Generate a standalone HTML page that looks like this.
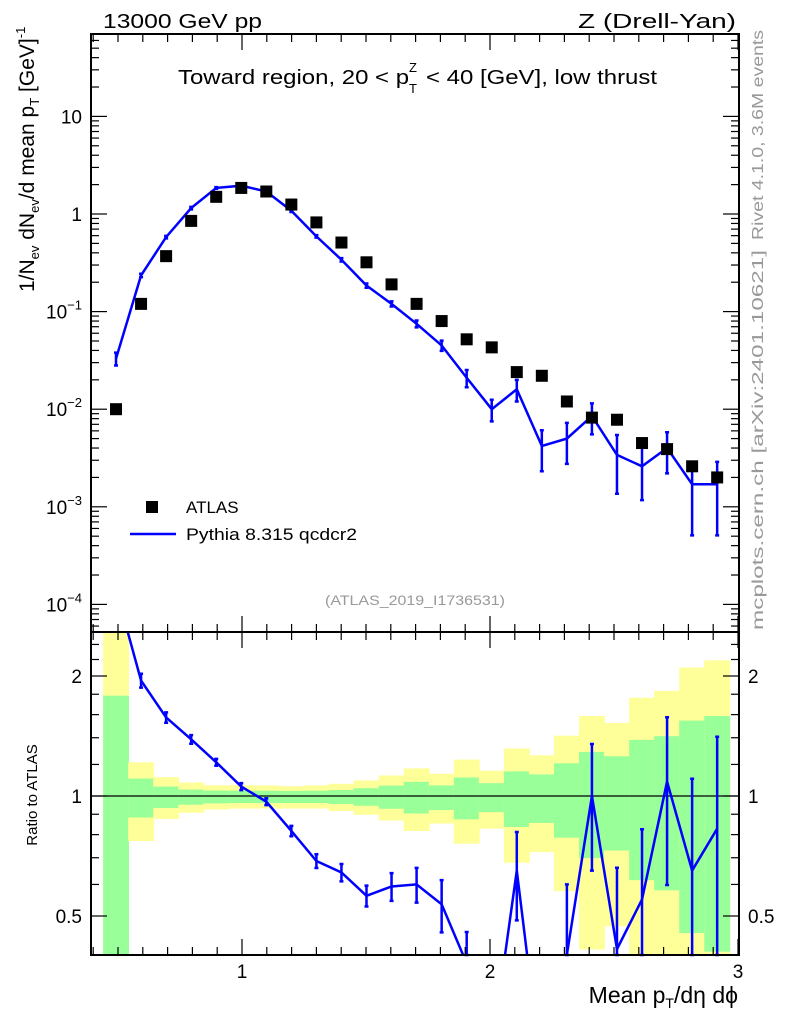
<!DOCTYPE html>
<html><head><meta charset="utf-8"><style>
body{margin:0;background:#fff;}
svg text{font-family:"Liberation Sans",Arial,sans-serif;}
</style></head><body>
<svg id="c" width="786" height="1024" xmlns="http://www.w3.org/2000/svg">
<rect width="786" height="1024" fill="#fff"/>
<g id="bands"></g>
<g id="marks"></g>
<g id="axes"></g>
<text x="103" y="28" font-size="20" textLength="159" lengthAdjust="spacingAndGlyphs">13000 GeV pp</text>
<text x="578" y="28" font-size="20" textLength="158" lengthAdjust="spacingAndGlyphs">Z (Drell-Yan)</text>
<g>
<text id="t1" x="178" y="84" font-size="20">Toward region, 20 &lt; p</text>
<text id="tT" x="341" y="93" font-size="13">T</text>
<text id="tZ" x="341" y="72" font-size="13">Z</text>
<text id="t2" x="362" y="84" font-size="20">&lt; 40 [GeV], low thrust</text>
</g>
<text transform="translate(763,240) rotate(-90)" font-size="16" fill="#999" textLength="210" lengthAdjust="spacingAndGlyphs">Rivet 4.1.0,  3.6M events</text>
<text transform="translate(763,630) rotate(-90)" font-size="16" fill="#999" textLength="380" lengthAdjust="spacingAndGlyphs">mcplots.cern.ch [arXiv:2401.10621]</text>
<text transform="translate(34,292) rotate(-90)" font-size="21">1/N<tspan dy="5" font-size="13">ev</tspan><tspan dy="-5"> dN</tspan><tspan dy="5" font-size="13">ev</tspan><tspan dy="-5">/d mean p</tspan><tspan dy="5" font-size="13">T</tspan><tspan dy="-5"> [GeV]</tspan><tspan dy="-9" font-size="13">-1</tspan></text>
<text transform="translate(37,795) rotate(-90)" font-size="15" text-anchor="middle">Ratio to ATLAS</text>
<text x="738" y="1003" font-size="23" text-anchor="end">Mean p<tspan dy="5" font-size="14">T</tspan><tspan dy="-5">/dη dϕ</tspan></text>
<text x="325" y="605" font-size="14" fill="#999" textLength="180" lengthAdjust="spacingAndGlyphs">(ATLAS_2019_I1736531)</text>
<g>
<rect x="146" y="501" width="12" height="12" fill="#000"/>
<text x="186" y="513" font-size="17">ATLAS</text>
<line x1="130" y1="534" x2="176" y2="534" stroke="#00f" stroke-width="2.5"/>
<text x="186" y="540" font-size="17" textLength="171" lengthAdjust="spacingAndGlyphs">Pythia 8.315 qcdcr2</text>
</g>
</svg>
<script>
const xs=[0.492,0.593,0.694,0.795,0.896,0.997,1.098,1.199,1.300,1.401,1.502,1.603,1.704,1.805,1.906,2.007,2.108,2.209,2.310,2.411,2.512,2.613,2.714,2.815,2.916];
const atlas=[0.010,0.12,0.37,0.85,1.5,1.85,1.7,1.25,0.82,0.51,0.32,0.19,0.12,0.08,0.052,0.043,0.024,0.022,0.012,0.0082,0.0078,0.0045,0.0039,0.0026,0.002];
const mc=[0.033,0.235,0.58,1.15,1.85,1.95,1.7,1.08,0.59,0.34,0.185,0.12,0.075,0.045,0.021,0.010,0.016,0.0042,0.005,0.0085,0.0034,0.0026,0.004,0.0017,0.0017];
const mcRelErr=[0.15,0.04,0.03,0.03,0.02,0.02,0.02,0.03,0.03,0.04,0.05,0.06,0.08,0.12,0.2,0.25,0.25,0.45,0.45,0.35,0.6,0.55,0.45,0.7,0.7];
const ratio=[3.3,1.948,1.574,1.387,1.215,1.056,0.968,0.817,0.687,0.643,0.562,0.593,0.6,0.535,0.38,0.23,0.65,0.2,0.4,1.0,0.413,0.55,1.087,0.65,0.828];
const ratioRelErr=[0.1,0.04,0.03,0.025,0.02,0.02,0.02,0.03,0.04,0.05,0.06,0.08,0.1,0.15,0.2,0.3,0.25,0.5,0.5,0.35,0.6,0.5,0.45,0.7,0.7];
const yelUp=[3,1.215,1.115,1.081,1.064,1.064,1.063,1.058,1.063,1.073,1.094,1.126,1.173,1.137,1.234,1.157,1.316,1.265,1.417,1.588,1.525,1.764,1.835,2.1,2.19];
const grnUp=[1.785,1.106,1.056,1.038,1.032,1.031,1.031,1.03,1.031,1.035,1.046,1.062,1.085,1.063,1.113,1.077,1.153,1.133,1.208,1.29,1.258,1.383,1.413,1.546,1.588];
const grnDn=[0.3,0.883,0.933,0.951,0.958,0.96,0.96,0.96,0.96,0.955,0.945,0.929,0.904,0.922,0.874,0.911,0.836,0.856,0.786,0.699,0.73,0.615,0.58,0.453,0.407];
const yelDn=[0.3,0.771,0.876,0.908,0.925,0.93,0.93,0.93,0.93,0.917,0.897,0.868,0.817,0.853,0.759,0.828,0.68,0.723,0.577,0.412,0.471,0.3,0.3,0.3,0.3];
const NS='http://www.w3.org/2000/svg';
const L=91,R=739,T=34,MB=632,RB=955;
const X=v=>-6+248*v;
const Y=v=>214-97.6*Math.log10(v);
const YR=v=>796-120*Math.log2(v);
const clipM=v=>Math.max(T,Math.min(MB,v));
const clipR=v=>Math.max(MB,Math.min(RB,v));
// title layout: stretch pieces proportionally to span 178..657
(function(){const t1=document.getElementById('t1'),t2=document.getElementById('t2');
 const w1=t1.getComputedTextLength(),w2=t2.getComputedTextLength();const sub=9,gap=4;
 const k=(657-178-sub-gap*2)/(w1+w2);
 t1.setAttribute('textLength',w1*k);t1.setAttribute('lengthAdjust','spacingAndGlyphs');
 const xs1=178+w1*k;document.getElementById('tT').setAttribute('x',xs1);document.getElementById('tZ').setAttribute('x',xs1);
 t2.setAttribute('x',xs1+sub+gap*2);t2.setAttribute('textLength',w2*k);t2.setAttribute('lengthAdjust','spacingAndGlyphs');})();
function mk(tag,at,parent){const e=document.createElementNS(NS,tag);for(const k in at)e.setAttribute(k,at[k]);(parent||document.getElementById('marks')).appendChild(e);return e;}
const bands=document.getElementById('bands');
xs.forEach((x,i)=>{
  const x0=Math.max(L+12,X(x-0.052)),x1=X(x+0.0505);
  let y1=clipR(YR(yelUp[i])),y2=clipR(YR(yelDn[i]));
  let e=mk('rect',{x:x0,y:y1,width:x1-x0+0.5,height:y2-y1,fill:'#ffff99'},bands);
  
  
  y1=clipR(YR(grnUp[i]));y2=clipR(YR(grnDn[i]));
  e=mk('rect',{x:x0,y:y1,width:x1-x0+0.5,height:y2-y1,fill:'#99ff99'},bands);
  
  
});
let e=mk('line',{x1:L,x2:R,y1:YR(1),y2:YR(1),stroke:'#000','stroke-width':1.3});


const defs=mk('defs',{},document.getElementById('c'));
const cm=mk('clipPath',{id:'cm'},defs);mk('rect',{x:L,y:T,width:R-L,height:MB-T},cm);
const cr=mk('clipPath',{id:'cr'},defs);mk('rect',{x:L,y:MB,width:R-L,height:RB-MB},cr);
let d=xs.map((x,i)=>(i?'L':'M')+X(x)+','+Y(mc[i])).join('');
e=mk('path',{d:d,fill:'none',stroke:'#00f','stroke-width':2.5,'clip-path':'url(#cm)'});


xs.forEach((x,i)=>{
  const a=clipM(Y(mc[i]*(1+mcRelErr[i]))),b=clipM(Y(Math.max(1e-6,mc[i]*(1-mcRelErr[i]))));
  let g=mk('path',{d:`M${X(x)},${a}V${b}M${X(x)-2},${a}h4M${X(x)-2},${b}h4`,stroke:'#00f','stroke-width':2.5,fill:'none'});
  
  
  g=mk('rect',{x:X(x)-6,y:Y(atlas[i])-6,width:12,height:12,fill:'#000'});
  
  
});
d=xs.map((x,i)=>(i?'L':'M')+X(x)+','+YR(ratio[i])).join('');
e=mk('path',{d:d,fill:'none',stroke:'#00f','stroke-width':2.5,'clip-path':'url(#cr)'});


xs.forEach((x,i)=>{
  if(YR(ratio[i]*(1+ratioRelErr[i]))>RB||YR(ratio[i]*(1-ratioRelErr[i]))<MB)return;
  const a=clipR(YR(ratio[i]*(1+ratioRelErr[i]))),b=clipR(YR(ratio[i]*(1-ratioRelErr[i])));
  const g=mk('path',{d:`M${X(x)},${a}V${b}M${X(x)-2},${a}h4M${X(x)-2},${b}h4`,stroke:'#00f','stroke-width':2.5,fill:'none'});
  
  
});
const ax=document.getElementById('axes');
function ln(x1,y1,x2,y2,w){mk('line',{x1,y1,x2,y2,stroke:'#000','stroke-width':w||1.2},ax);}
e=mk('rect',{x:L,y:T,width:R-L,height:MB-T,fill:'none',stroke:'#000','stroke-width':2},ax);


e=mk('rect',{x:L,y:MB,width:R-L,height:RB-MB,fill:'none',stroke:'#000','stroke-width':2},ax);


for(let k=4;k<=30;k++){const v=k/10,px=X(v);if(px<L||px>R)continue;const big=k%10==0;const h=big?16:8;
  ln(px,T,px,T+h);ln(px,MB,px,MB-h);ln(px,MB,px,MB+h);ln(px,RB,px,RB-h);}
const xTicks=['1','2','3'];
xTicks.forEach(t=>{const tx=mk('text',{x:X(+t),y:978,'font-size':19,'text-anchor':'middle'},ax);tx.textContent=t;
  
  });
const yTickVals=[-4,-3,-2,-1,0,1];
for(let p=-5;p<=1;p++)for(let m=1;m<10;m++){const v=m*Math.pow(10,p),py=Y(v);if(py<T||py>MB)continue;const h=m==1?16:8;ln(L,py,L+h,py);ln(R,py,R-h,py);}
yTickVals.forEach(p=>{const py=Y(Math.pow(10,p));
  const tx=mk('text',{x:82,y:py+7,'font-size':19,'text-anchor':'end'},ax);
  if(p==0)tx.textContent='1';else if(p==1)tx.textContent='10';else{tx.textContent='10';const s=mk('tspan',{dy:-9,'font-size':13},tx);s.textContent=String(p).replace('-','−');}
  
  });
[0.4,0.5,0.6,0.7,0.8,0.9,1,1.2,1.4,1.6,1.8,2,2.2,2.4].forEach(v=>{const py=YR(v);if(py<MB||py>RB)return;const h=(v==0.5||v==1||v==2)?16:8;ln(L,py,L+h,py);ln(R,py,R-h,py);});
const rTicks=['0.5','1','2'];
rTicks.forEach(t=>{const py=YR(+t)+7;
  let tx=mk('text',{x:82,y:py,'font-size':19,'text-anchor':'end'},ax);tx.textContent=t;
  
  
  tx=mk('text',{x:748,y:py,'font-size':19},ax);tx.textContent=t;
  
  });
</script>
</body></html>
